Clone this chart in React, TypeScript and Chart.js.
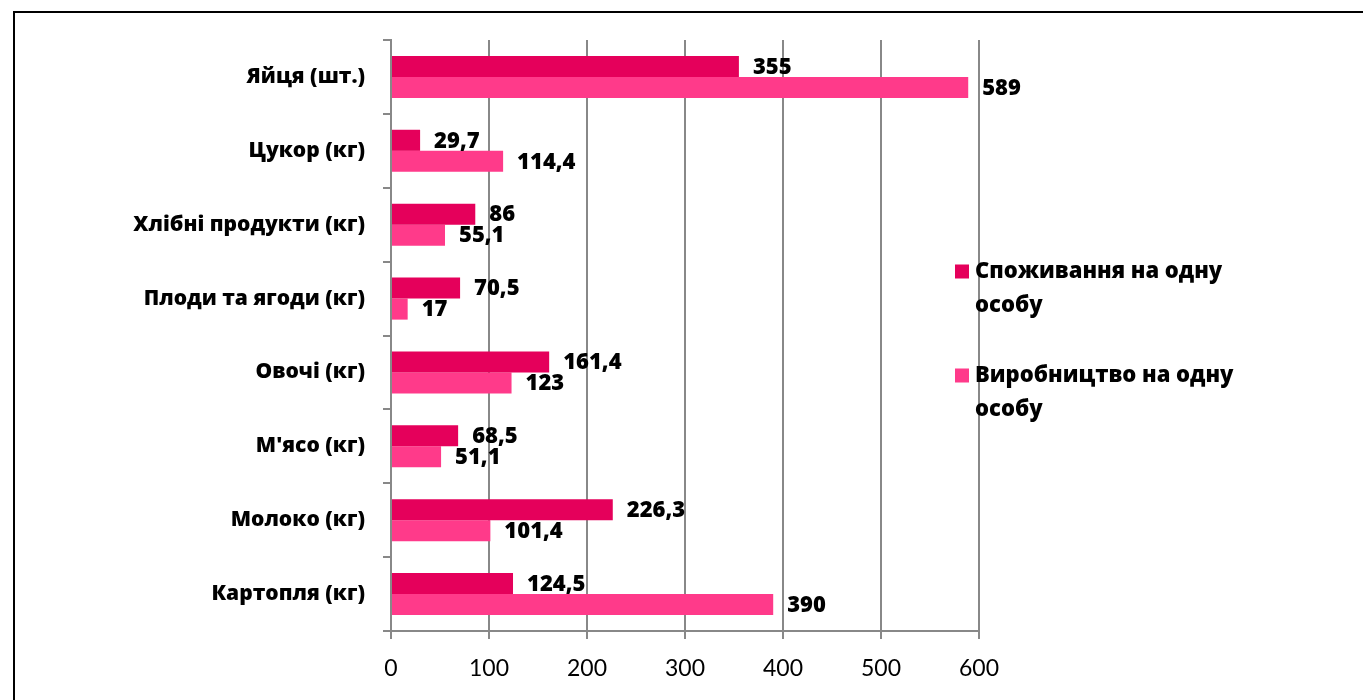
import React, { useEffect, useRef } from "react";
import { Chart, registerables } from "chart.js";

Chart.register(...registerables);

const categories = [
  "Яйця (шт.)",
  "Цукор (кг)",
  "Хлібні продукти (кг)",
  "Плоди та ягоди (кг)",
  "Овочі (кг)",
  "М'ясо (кг)",
  "Молоко (кг)",
  "Картопля (кг)",
];
const consumption = [355, 29.7, 86, 70.5, 161.4, 68.5, 226.3, 124.5];
const production = [589, 114.4, 55.1, 17, 123, 51.1, 101.4, 390];
const seriesNames = ["Споживання на одну особу", "Виробництво на одну особу"];
const xTicks = [0, 100, 200, 300, 400, 500, 600];

const DARK = "#E5005B";
const LIGHT = "#FF3A8A";
const GRID = "#888888";
const FONT = "Lato, 'Open Sans', sans-serif";
const BFONT = "'Open Sans', Lato, sans-serif";

const fmt = (v: number) => String(v).replace(".", ",");

const dataLabels = {
  id: "dataLabels",
  afterDatasetsDraw(chart: any) {
    const ctx = chart.ctx;
    ctx.save();
    ctx.font = `800 22px ${BFONT}`;
    ctx.fillStyle = "#000";
    ctx.textAlign = "left";
    ctx.textBaseline = "middle";
    chart.data.datasets.forEach((ds: any, i: number) => {
      const meta = chart.getDatasetMeta(i);
      meta.data.forEach((el: any, j: number) => {
        ctx.fillText(fmt(ds.data[j]), el.x + 14, el.y + 1);
      });
    });
    ctx.restore();
  },
};

const sideLegend = {
  id: "sideLegend",
  afterDraw(chart: any) {
    const ctx = chart.ctx;
    const area = chart.chartArea;
    ctx.save();
    ctx.font = `800 22px ${BFONT}`;
    ctx.textAlign = "left";
    ctx.textBaseline = "middle";
    const maxW = 275;
    const lineH = 34;
    const gap = 36;
    const items = chart.data.datasets.map((ds: any) => {
      const words = String(ds.label).split(" ");
      const lines: string[] = [];
      let cur = "";
      words.forEach((w) => {
        const t = cur ? cur + " " + w : w;
        if (ctx.measureText(t).width > maxW && cur) {
          lines.push(cur);
          cur = w;
        } else cur = t;
      });
      if (cur) lines.push(cur);
      return { lines, color: ds.backgroundColor };
    });
    const total =
      items.reduce((s: number, it: any) => s + it.lines.length * lineH, 0) +
      gap * (items.length - 1);
    let y = (area.top + area.bottom) / 2 + 5 - total / 2;
    const sx = area.right - 24;
    items.forEach((it: any) => {
      ctx.fillStyle = it.color;
      ctx.fillRect(sx, y + lineH / 2 - 7, 14, 14);
      ctx.fillStyle = "#000";
      it.lines.forEach((ln: string, k: number) => {
        ctx.fillText(ln, sx + 20, y + lineH / 2 + k * lineH);
      });
      y += it.lines.length * lineH + gap;
    });
    ctx.restore();
  },
};

export default function App() {
  const ref = useRef<HTMLCanvasElement>(null);
  useEffect(() => {
    if (!ref.current) return;
    const chart = new Chart(ref.current, {
      type: "bar",
      data: {
        labels: categories,
        datasets: [
          {
            label: seriesNames[0],
            data: consumption,
            backgroundColor: DARK,
            categoryPercentage: 0.57,
            barPercentage: 1,
          },
          {
            label: seriesNames[1],
            data: production,
            backgroundColor: LIGHT,
            categoryPercentage: 0.57,
            barPercentage: 1,
          },
        ],
      },
      options: {
        indexAxis: "y",
        animation: false,
        responsive: false,
        maintainAspectRatio: false,
        layout: { padding: { top: 40, right: 384, bottom: 0, left: 0 } },
        plugins: {
          legend: { display: false },
          tooltip: { enabled: false },
        },
        scales: {
          x: {
            min: xTicks[0],
            max: xTicks[xTicks.length - 1],
            afterBuildTicks(scale: any) {
              scale.ticks = xTicks.map((v) => ({ value: v }));
            },
            afterFit(scale: any) {
              scale.height = 69;
            },
            grid: {
              color: GRID,
              lineWidth: 2,
              drawTicks: true,
              tickLength: 8,
            },
            border: { display: true, color: GRID, width: 2 },
            ticks: {
              color: "#000",
              padding: 16,
              font: { family: FONT, size: 23 },
            },
          },
          y: {
            afterFit(scale: any) {
              scale.width = 391;
            },
            grid: {
              color: GRID,
              lineWidth: 2,
              drawOnChartArea: false,
              drawTicks: true,
              tickLength: 8,
              offset: true,
            },
            border: { display: true, color: GRID, width: 2 },
            ticks: {
              color: "#000",
              padding: 18,
              font: { family: BFONT, size: 21, weight: "800" },
            },
          },
        },
      },
      plugins: [dataLabels, sideLegend],
    });
    return () => chart.destroy();
  }, []);
  return (
    <div
      style={{
        position: "fixed",
        left: 0,
        top: 0,
        width: 1363,
        height: 700,
        overflow: "hidden",
        background: "#fff",
      }}
    >
      <canvas
        ref={ref}
        width={1363}
        height={700}
        style={{ position: "absolute", left: 0, top: 0, width: 1363, height: 700 }}
      />
      <div
        style={{
          position: "absolute",
          left: 13,
          top: 11,
          width: 1400,
          height: 800,
          border: "2px solid #000",
          pointerEvents: "none",
        }}
      />
    </div>
  );
}
